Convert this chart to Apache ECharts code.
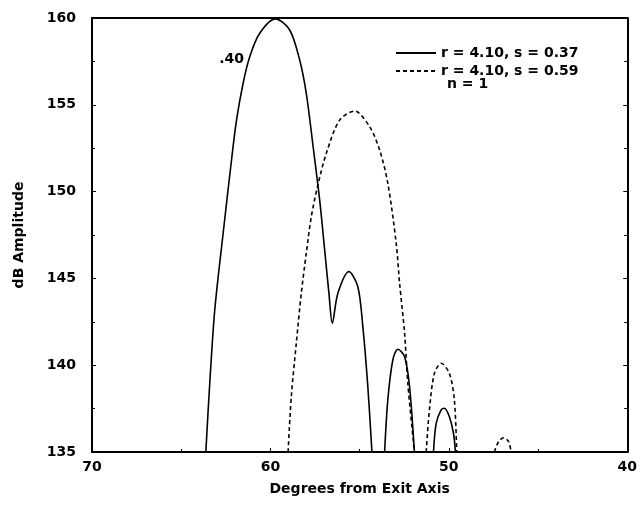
<!DOCTYPE html>
<html style="height: 100%">
<head>
    <meta charset="UTF-8">
    <title>dB Amplitude vs Degrees from Exit Axis</title>
    <script src="https://cdn.jsdelivr.net/npm/echarts@6/dist/echarts.min.js"></script>
    <style>
        html, body { margin: 0; padding: 0; background: #fff; }
        #chart { width: 640px; height: 510px; }
    </style>
</head>
<body>
    <div id="chart"></div>
    <script>
        // solid curve (r = 4.10, s = 0.37), null = break below 135 dB
        var solidDeg = [63.62, 63.40, 63.12, 62.65, 62.18, 61.90, 61.53, 61.16, 60.60, 59.72, 58.92, 58.36, 57.99, 57.62, 57.24, 56.96, 56.72, 56.53, 56.22, 55.60, 55.10, 54.82, 54.54, 54.31,
                        null,
                        53.60, 53.42, 53.14, 52.86, 52.48, 52.20, 51.93,
                        null,
                        50.86, 50.71, 50.43, 50.25, 49.97, 49.74, 49.63];
        var solidDb  = [135.0, 138.96, 143.18, 147.6, 151.82, 154.12, 156.24, 157.77, 159.12, 159.95, 159.31, 157.58, 155.66, 152.7, 149.52, 146.64, 144.14, 142.41, 144.14, 145.39, 144.52, 142.22, 138.76, 135.0,
                        null,
                        135.0, 138.0, 140.3, 140.92, 140.49, 138.76, 135.0,
                        null,
                        135.0, 136.65, 137.42, 137.52, 137.03, 136.08, 135.0];

        // dashed curve (r = 4.10, s = 0.59)
        var dashDeg = [59.01, 58.83, 58.55, 58.27, 57.99, 57.71, 57.34, 56.87, 56.12, 55.28, 54.44, 53.88, 53.42, 52.95, 52.76, 52.48, 52.30, 51.93,
                       null,
                       51.27, 51.09, 50.81, 50.43, 49.97, 49.69, 49.56,
                       null,
                       47.45, 47.21, 46.93, 46.65, 46.51];
        var dashDb  = [135.0, 138.19, 141.26, 144.14, 146.45, 148.55, 150.38, 152.2, 154.12, 154.64, 153.74, 152.4, 150.48, 147.02, 144.72, 141.84, 138.96, 135.0,
                       null,
                       135.0, 137.42, 139.53, 140.11, 139.53, 138.0, 135.0,
                       null,
                       135.0, 135.6, 135.82, 135.6, 135.0];

        var seriesNames = ['r = 4.10, s = 0.37', 'r = 4.10, s = 0.59'];
        var noteText = 'n = 1';
        var peakLabel = { text: '.40', deg: 62.17, db: 157.64 };

        // 把两组数组合成 [x, y] 点，null 处断开
        function toPairs(xs, ys) {
            return xs.map(function (x, i) {
                if (x === null || ys[i] === null) return ['-', '-'];
                return [x, ys[i]];
            });
        }

        var font = 'DejaVu Sans';
        var labelStyle = { color: '#000', fontFamily: font, fontWeight: 'bold', fontSize: 14 };

        var option = {
            animation: false,
            backgroundColor: '#fff',
            grid: { left: 92, right: 12, top: 18, bottom: 58 },
            xAxis: [{
                type: 'value',
                min: 40, max: 70, interval: 10,
                inverse: true,
                name: 'Degrees from Exit Axis',
                nameLocation: 'middle',
                nameGap: 30,
                nameTextStyle: labelStyle,
                axisLine: { lineStyle: { color: '#000', width: 2 } },
                axisTick: { inside: true, length: 4, lineStyle: { color: '#000' } },
                minorTick: { show: true, splitNumber: 2, length: 3, lineStyle: { color: '#000' } },
                axisLabel: Object.assign({ margin: 8 }, labelStyle),
                splitLine: { show: false }
            }, {
                type: 'value',
                position: 'top',
                min: 40, max: 70, interval: 10,
                inverse: true,
                axisLine: { show: true, lineStyle: { color: '#000', width: 2 } },
                axisTick: { show: false },
                axisLabel: { show: false },
                splitLine: { show: false }
            }],
            yAxis: [{
                type: 'value',
                min: 135, max: 160, interval: 5,
                name: 'dB Amplitude',
                nameLocation: 'middle',
                nameGap: 66,
                nameTextStyle: labelStyle,
                axisLine: { show: true, lineStyle: { color: '#000', width: 2 } },
                axisTick: { show: true, inside: true, length: 4, lineStyle: { color: '#000' } },
                minorTick: { show: true, splitNumber: 2, length: 3, lineStyle: { color: '#000' } },
                axisLabel: Object.assign({ margin: 16 }, labelStyle),
                splitLine: { show: false }
            }, {
                type: 'value',
                position: 'right',
                min: 135, max: 160, interval: 5,
                axisLine: { show: true, lineStyle: { color: '#000', width: 2 } },
                axisTick: { show: true, inside: true, length: 4, lineStyle: { color: '#000' } },
                minorTick: { show: true, splitNumber: 2, length: 3, lineStyle: { color: '#000' } },
                axisLabel: { show: false },
                splitLine: { show: false }
            }],
            legend: {
                orient: 'vertical',
                left: 395, top: 46,
                padding: 0,
                itemWidth: 40, itemHeight: 10, itemGap: 4,
                itemStyle: { color: 'rgba(0,0,0,0)', borderWidth: 0 },
                textStyle: { color: '#000', fontFamily: font, fontWeight: 'bold', fontSize: 14, lineHeight: 12 },
                data: seriesNames
            },
            graphic: [{
                type: 'text',
                left: 447, top: 77,
                style: { text: noteText, fill: '#000', font: 'bold 14px "DejaVu Sans"' }
            }],
            series: [{
                name: seriesNames[0],
                type: 'line',
                data: toPairs(solidDeg, solidDb),
                symbol: 'none',
                smooth: 0.3,
                lineStyle: { color: '#000', width: 1.6 },
                itemStyle: { color: '#000' },
                markPoint: {
                    symbol: 'circle', symbolSize: 0,
                    label: {
                        show: true, position: 'inside',
                        formatter: peakLabel.text,
                        color: '#000', fontFamily: font, fontWeight: 'bold', fontSize: 14
                    },
                    data: [{ coord: [peakLabel.deg, peakLabel.db] }]
                }
            }, {
                name: seriesNames[1],
                type: 'line',
                data: toPairs(dashDeg, dashDb),
                symbol: 'none',
                smooth: 0.3,
                lineStyle: { color: '#000', width: 1.6, type: [4, 3] },
                itemStyle: { color: '#000' }
            }]
        };

        var chart = echarts.init(document.getElementById('chart'));
        chart.setOption(option);
    </script>
</body>
</html>
